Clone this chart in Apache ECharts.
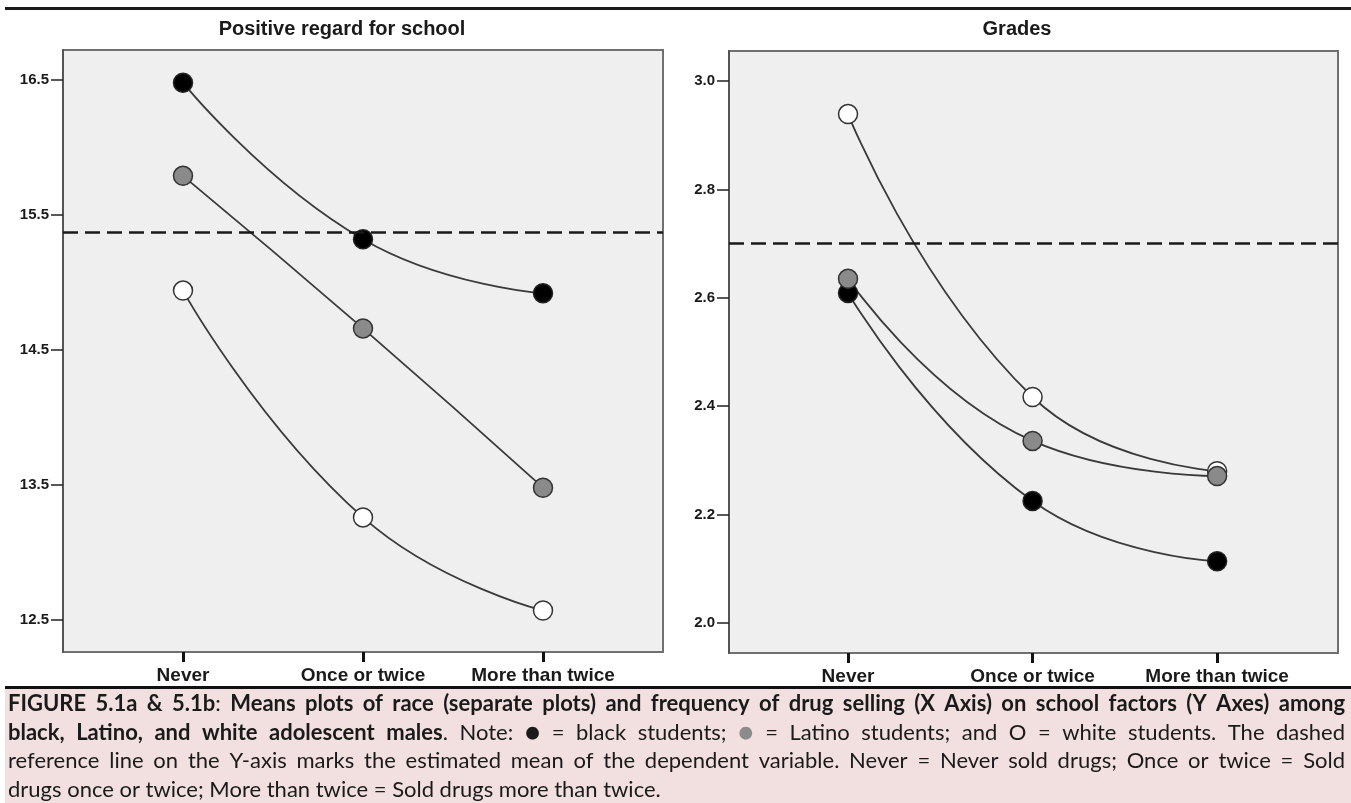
<!DOCTYPE html>
<html>
<head>
<meta charset="utf-8">
<script src="https://cdn.jsdelivr.net/npm/echarts@6/dist/echarts.min.js"></script>
<style>
html,body{margin:0;padding:0;background:#fff;}
#chart{width:1351px;height:803px;}
</style>
</head>
<body>
<div id="chart"></div>
<script>
// ---- data ----
const categories = ['Never', 'Once or twice', 'More than twice'];
const catPositions = [0, 1, 2];
const schoolTicks = [12.5, 13.5, 14.5, 15.5, 16.5];
const gradesTicks = [2.0, 2.2, 2.4, 2.6, 2.8, 3.0];
const schoolBlack = [16.48, 15.32, 14.92];
const schoolLatino = [15.79, 14.66, 13.48];
const schoolWhite = [14.94, 13.26, 12.57];
const schoolMean = 15.37;
const gradesBlack = [2.609, 2.225, 2.114];
const gradesLatino = [2.635, 2.336, 2.271];
const gradesWhite = [2.939, 2.417, 2.280];
const gradesMean = 2.703;
const titles = ['Positive regard for school', 'Grades'];

const captionLines = [
  [['FIGURE 5.1a & 5.1b', 'b'], [': ', 'n'], ['Means plots of race (separate plots) and frequency of drug selling (X Axis) on school factors (Y Axes) among', 'b']],
  [['black, Latino, and white adolescent males', 'b'], ['. Note: ', 'n'], ['\u25CF', 'k'], [' = black students; ', 'n'], ['\u25CF', 'g'], [' = Latino students; and O = white students. The dashed', 'n']],
  [['reference line on the Y-axis marks the estimated mean of the dependent variable. Never = Never sold drugs; Once or twice = Sold', 'n']],
  [['drugs once or twice; More than twice = Sold drugs more than twice.', 'n']]
];

// ---- styling ----
const AX_FONT = 'Liberation Sans, Arial, sans-serif';
const lineColor = '#3a3a3a';
function mk(vals) { return vals.map((v, i) => [catPositions[i], v]); }
function seriesFor(name, vals, fill, border, gi, mean) {
  const s = {
    name: name, type: 'line', xAxisIndex: gi, yAxisIndex: gi,
    data: mk(vals), smooth: 0.5, symbol: 'circle', symbolSize: 19,
    lineStyle: { color: lineColor, width: 1.8 },
    itemStyle: { color: fill, borderColor: border, borderWidth: 1.5 },
    animation: false, silent: true
  };
  if (mean !== undefined) {
    s.markLine = {
      silent: true, symbol: ['none', 'none'], animation: false,
      label: { show: false },
      lineStyle: { type: [15, 7], width: 2.5, color: '#1a1a1a' },
      data: [{ yAxis: mean }]
    };
  }
  return s;
}
function yAxisFor(gi, min, max, ticks) {
  return {
    type: 'value', gridIndex: gi, min: min, max: max, position: 'left',
    splitLine: { show: false },
    axisLine: { show: true, onZero: false, lineStyle: { color: '#555', width: 2 } },
    axisTick: { show: true, length: 12, customValues: ticks, lineStyle: { color: '#222', width: 1.5 } },
    axisLabel: { customValues: ticks, margin: 14, formatter: v => Number(v).toFixed(1),
      fontFamily: AX_FONT, fontWeight: 'bold', fontSize: 15, color: '#1a1a1a' }
  };
}
function xAxisFor(gi, min, max) {
  return {
    type: 'value', gridIndex: gi, min: min, max: max, position: 'bottom',
    splitLine: { show: false },
    axisLine: { show: false, onZero: false },
    axisTick: { show: true, length: 10, customValues: catPositions, lineStyle: { color: '#111', width: 3 } },
    axisLabel: { customValues: catPositions, margin: 14,
      formatter: v => categories[Math.round(v)] || '',
      fontFamily: AX_FONT, fontWeight: 'bold', fontSize: 19, color: '#1a1a1a' }
  };
}

// ---- caption layout (justified) ----
const CAP_SIZE = 22;
const CAP_FAMILY = 'Lato, "Open Sans", sans-serif';
const capX = 8, capW = 1337, capY0 = 704, capLH = 28.6;
const mctx = document.createElement('canvas').getContext('2d');
function fontOf(st) {
  if (st === 'k' || st === 'g') return '26px ' + CAP_FAMILY;
  return (st === 'b' ? 'bold ' : '') + CAP_SIZE + 'px ' + CAP_FAMILY;
}
function mw(text, st) { mctx.font = fontOf(st); return mctx.measureText(text).width; }
const capGraphics = [];
captionLines.forEach((line, li) => {
  const tokens = [];
  let cur = [];
  line.forEach(([text, st]) => {
    const parts = text.split(' ');
    parts.forEach((p, pi) => {
      if (pi > 0) { if (cur.length) tokens.push(cur); cur = []; }
      if (p.length) cur.push([p, st]);
    });
  });
  if (cur.length) tokens.push(cur);
  const tw = tokens.map(t => t.reduce((a, [p, st]) => a + mw(p, st), 0));
  const total = tw.reduce((a, b) => a + b, 0);
  const last = li === captionLines.length - 1;
  const gap = last ? mw(' ', 'n') : (capW - total) / (tokens.length - 1);
  let x = capX;
  const y = capY0 + li * capLH;
  tokens.forEach((t, ti) => {
    let px = x;
    t.forEach(([p, st]) => {
      capGraphics.push({
        type: 'text', x: px, y: y, z: 110,
        style: { text: p, font: fontOf(st),
          fill: st === 'g' ? '#8c8c8c' : '#1a1a1a', verticalAlign: 'middle', align: 'left' }
      });
      px += mw(p, st);
    });
    x += tw[ti] + gap;
  });
});

const chart = echarts.init(document.getElementById('chart'), null, { renderer: 'canvas' });
chart.setOption({
  backgroundColor: '#ffffff',
  animation: false,
  grid: [
    { left: 63, top: 50, width: 600, height: 602, show: true, backgroundColor: '#efefef', borderColor: '#707070', borderWidth: 2 },
    { left: 729, top: 51, width: 609, height: 602, show: true, backgroundColor: '#efefef', borderColor: '#707070', borderWidth: 2 }
  ],
  xAxis: [xAxisFor(0, -2 / 3, 8 / 3), xAxisFor(1, -0.645, 2.655)],
  yAxis: [yAxisFor(0, 12.263, 16.722, schoolTicks), yAxisFor(1, 1.9446, 3.0554, gradesTicks)],
  series: [
    seriesFor('white', schoolWhite, '#ffffff', '#333', 0, schoolMean),
    seriesFor('latino', schoolLatino, '#8a8a8a', '#333', 0),
    seriesFor('black', schoolBlack, '#000000', '#222', 0),
    seriesFor('white', gradesWhite, '#ffffff', '#333', 1, gradesMean),
    seriesFor('black', gradesBlack, '#000000', '#222', 1),
    seriesFor('latino', gradesLatino, '#8a8a8a', '#333', 1)
  ],
  graphic: [
    { type: 'rect', shape: { x: 5, y: 7, width: 1346, height: 3 }, style: { fill: '#1a1a1a' }, z: 100 },
    { type: 'text', x: 342, y: 29, z: 100, style: { text: titles[0], font: 'bold 20px ' + AX_FONT, fill: '#1a1a1a', align: 'center', verticalAlign: 'middle' } },
    { type: 'text', x: 1017, y: 29, z: 100, style: { text: titles[1], font: 'bold 20px ' + AX_FONT, fill: '#1a1a1a', align: 'center', verticalAlign: 'middle' } },
    { type: 'rect', shape: { x: 5, y: 689, width: 1346, height: 114 }, style: { fill: '#f2e0e0' }, z: 99 },
    { type: 'rect', shape: { x: 5, y: 686, width: 1346, height: 3 }, style: { fill: '#111' }, z: 100 }
  ].concat(capGraphics)
});
</script>
</body>
</html>
